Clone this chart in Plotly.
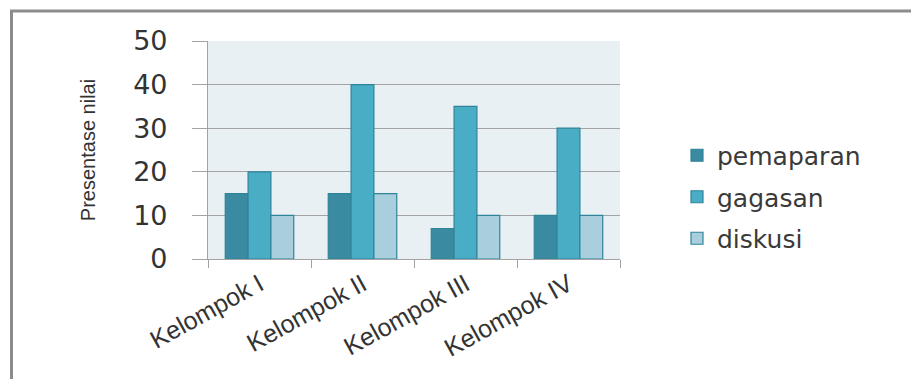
import plotly.graph_objects as go

categories = ["Kelompok I", "Kelompok II", "Kelompok III", "Kelompok IV"]
pemaparan = [15, 15, 7, 10]
gagasan = [20, 40, 35, 30]
diskusi = [10, 15, 10, 10]
y_ticks = [0, 10, 20, 30, 40, 50]

series = [
    ("pemaparan", pemaparan, "#3a8ba1"),
    ("gagasan", gagasan, "#4aadc6"),
    ("diskusi", diskusi, "#a9cfdf"),
]

fig = go.Figure()
for i, (name, vals, col) in enumerate(series):
    fig.add_trace(go.Bar(
        x=categories, y=vals, name=name, legendgroup=name,
        marker=dict(color=col, line=dict(color="#2f8499", width=1.2)),
    ))

grid = "#a3a3a3"
W, H = 911, 379
L, R, T, B = 208, 291, 41, 120
pw, ph = W - L - R, H - T - B

def px2x(px):
    return (px - L) / pw

def px2y(py):
    return (H - B - py) / ph

fig.update_layout(
    width=W, height=H,
    margin=dict(l=L, r=R, t=T, b=B, pad=0),
    paper_bgcolor="white",
    plot_bgcolor="#e8f0f4",
    barmode="group",
    bargap=0.335,
    bargroupgap=0,
    font=dict(family="DejaVu Sans", color="#404040"),
    legend=dict(
        x=px2x(677), y=px2y(197), xanchor="left", yanchor="middle",
        font=dict(size=25, color="#3a3a3a", family="DejaVu Sans"),
        traceorder="grouped", tracegroupgap=6,
        bgcolor="rgba(0,0,0,0)",
    ),
    showlegend=True,
    shapes=[
        dict(type="line", xref="paper", yref="paper",
             x0=px2x(11.5), x1=px2x(11.5), y0=px2y(10), y1=px2y(380),
             line=dict(color="#8c8c8c", width=3)),
        dict(type="line", xref="paper", yref="paper",
             x0=px2x(10), x1=px2x(912), y0=px2y(11), y1=px2y(11),
             line=dict(color="#8c8c8c", width=3)),
    ],
)

fig.update_yaxes(
    range=[0, 50], tickvals=y_ticks,
    showgrid=True, gridcolor=grid, gridwidth=1.2,
    zeroline=False,
    showline=True, linecolor=grid, linewidth=1.2,
    ticks="outside", ticklen=15, tickcolor=grid, tickwidth=1.2,
    ticklabelstandoff=19,
    tickfont=dict(size=27, color="#333333", family="DejaVu Sans"),
    title=dict(text="Presentase nilai", standoff=32,
               font=dict(size=20, family="Liberation Sans Narrow, Arial Narrow, Liberation Sans", color="#333333")),
)
fig.update_xaxes(
    tickson="boundaries",
    showline=True, linecolor=grid, linewidth=1.2,
    ticks="outside", ticklen=8, tickcolor=grid, tickwidth=1.2,
    tickangle=-29,
    tickfont=dict(size=25, color="#333333", family="Liberation Sans"),
    showgrid=False,
)

fig.write_html("out.html")
